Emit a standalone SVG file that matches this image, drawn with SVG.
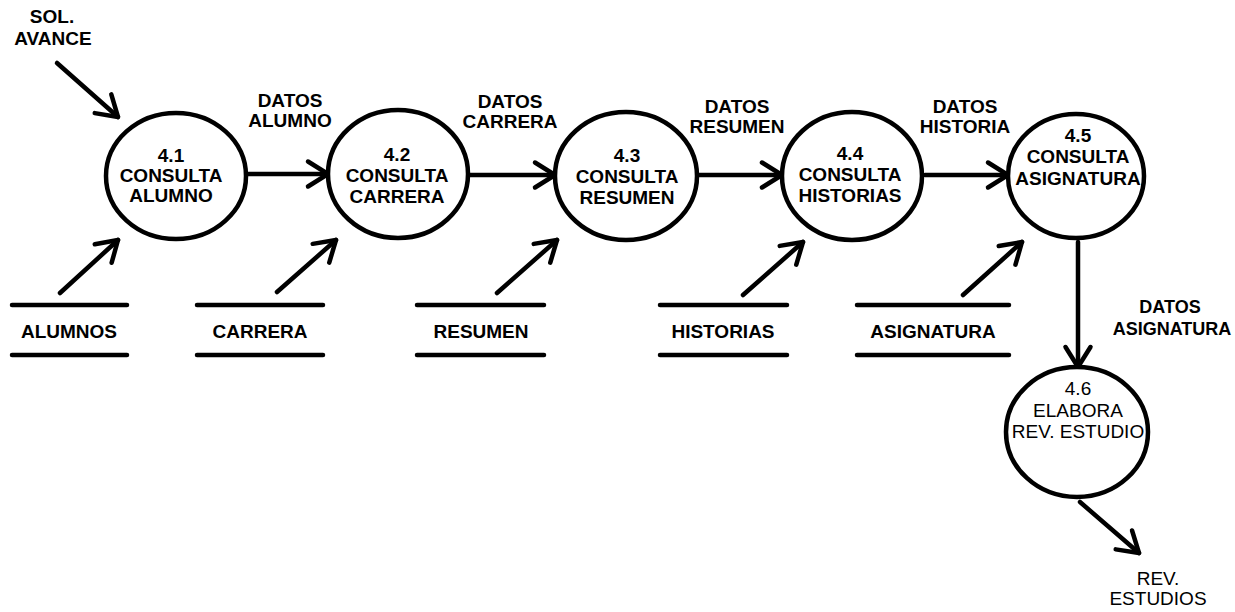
<svg xmlns="http://www.w3.org/2000/svg" width="1235" height="612" viewBox="0 0 1235 612">
<defs>
<style>
.t{font-family:"Liberation Sans",Arial,sans-serif;font-size:19px;font-weight:bold;fill:#000;text-anchor:middle}
.n{font-weight:normal}
.sm{font-size:18px}
.c{fill:#fff;stroke:#000;stroke-width:4.5}
.f{stroke:#000;stroke-width:4.5;fill:none;stroke-linecap:round}
.s{stroke:#000;stroke-width:4.5;stroke-linecap:round}
</style>
<marker id="arr" markerUnits="userSpaceOnUse" markerWidth="30" markerHeight="30" refX="22" refY="15" orient="auto" overflow="visible">
<path d="M2,2.5 L22,15 L2,27.5" fill="none" stroke="#000" stroke-width="4.5" stroke-linecap="round" stroke-linejoin="round"/>
</marker>
</defs>
<rect width="1235" height="612" fill="#fff"/>

<g id="connectors">
<line class="f" x1="57" y1="63" x2="118" y2="117" marker-end="url(#arr)"/>
<line class="f" x1="247" y1="174" x2="328" y2="174" marker-end="url(#arr)"/>
<line class="f" x1="470" y1="175" x2="555" y2="175" marker-end="url(#arr)"/>
<line class="f" x1="698" y1="175" x2="782" y2="175" marker-end="url(#arr)"/>
<line class="f" x1="925" y1="175" x2="1008" y2="175" marker-end="url(#arr)"/>
<line class="f" x1="60" y1="293" x2="118" y2="240" marker-end="url(#arr)"/>
<line class="f" x1="277" y1="292" x2="336" y2="240" marker-end="url(#arr)"/>
<line class="f" x1="497" y1="293" x2="557" y2="240" marker-end="url(#arr)"/>
<line class="f" x1="743" y1="295" x2="803" y2="242" marker-end="url(#arr)"/>
<line class="f" x1="963" y1="295" x2="1022" y2="242" marker-end="url(#arr)"/>
<line class="f" x1="1078" y1="242" x2="1078" y2="367" marker-end="url(#arr)"/>
<line class="f" x1="1080" y1="502" x2="1139" y2="553" marker-end="url(#arr)"/>
<text class="t"><tspan x="52" y="23">SOL.</tspan><tspan x="53" y="45">AVANCE</tspan></text>
<text class="t"><tspan x="290" y="107">DATOS</tspan><tspan x="290" y="127">ALUMNO</tspan></text>
<text class="t"><tspan x="510" y="108">DATOS</tspan><tspan x="510" y="128">CARRERA</tspan></text>
<text class="t"><tspan x="737" y="113">DATOS</tspan><tspan x="737" y="133">RESUMEN</tspan></text>
<text class="t"><tspan x="965" y="113">DATOS</tspan><tspan x="965" y="133">HISTORIA</tspan></text>
<text class="t sm"><tspan x="1170" y="313">DATOS</tspan><tspan x="1172" y="335">ASIGNATURA</tspan></text>
<text class="t n"><tspan x="1158" y="585">REV.</tspan><tspan x="1158" y="605">ESTUDIOS</tspan></text>
</g>

<g id="p41">
<ellipse class="c" cx="176" cy="176" rx="70" ry="63"/>
<text class="t"><tspan x="171" y="162">4.1</tspan><tspan x="171" y="182">CONSULTA</tspan><tspan x="171" y="202">ALUMNO</tspan></text>
</g>
<g id="p42">
<ellipse class="c" cx="398" cy="174" rx="70" ry="64"/>
<text class="t"><tspan x="397" y="161">4.2</tspan><tspan x="397" y="182">CONSULTA</tspan><tspan x="397" y="203">CARRERA</tspan></text>
</g>
<g id="p43">
<ellipse class="c" cx="626" cy="176" rx="71" ry="64"/>
<text class="t"><tspan x="627" y="162">4.3</tspan><tspan x="627" y="183">CONSULTA</tspan><tspan x="627" y="204">RESUMEN</tspan></text>
</g>
<g id="p44">
<ellipse class="c" cx="852" cy="176" rx="70" ry="64"/>
<text class="t"><tspan x="850" y="160">4.4</tspan><tspan x="850" y="181">CONSULTA</tspan><tspan x="850" y="202">HISTORIAS</tspan></text>
</g>
<g id="p45">
<ellipse class="c" cx="1076" cy="176" rx="68" ry="62"/>
<text class="t"><tspan x="1078" y="142">4.5</tspan><tspan x="1078" y="163">CONSULTA</tspan><tspan x="1078" y="185">ASIGNATURA</tspan></text>
</g>
<g id="p46">
<ellipse class="c" cx="1077" cy="432" rx="71" ry="65"/>
<text class="t n"><tspan x="1078" y="395">4.6</tspan><tspan x="1078" y="417">ELABORA</tspan><tspan x="1078" y="438">REV. ESTUDIO</tspan></text>
</g>

<g id="d_alumnos">
<line class="s" x1="12" y1="305" x2="127" y2="305"/><line class="s" x1="12" y1="355" x2="127" y2="355"/>
<text class="t" x="69" y="338">ALUMNOS</text>
</g>
<g id="d_carrera">
<line class="s" x1="197" y1="305" x2="323" y2="305"/><line class="s" x1="197" y1="355" x2="323" y2="355"/>
<text class="t" x="260" y="338">CARRERA</text>
</g>
<g id="d_resumen">
<line class="s" x1="417" y1="305" x2="544" y2="305"/><line class="s" x1="417" y1="355" x2="544" y2="355"/>
<text class="t" x="481" y="338">RESUMEN</text>
</g>
<g id="d_historias">
<line class="s" x1="660" y1="305" x2="787" y2="305"/><line class="s" x1="660" y1="355" x2="787" y2="355"/>
<text class="t" x="723" y="338">HISTORIAS</text>
</g>
<g id="d_asignatura">
<line class="s" x1="857" y1="305" x2="1009" y2="305"/><line class="s" x1="857" y1="355" x2="1009" y2="355"/>
<text class="t" x="933" y="338">ASIGNATURA</text>
</g>
</svg>
